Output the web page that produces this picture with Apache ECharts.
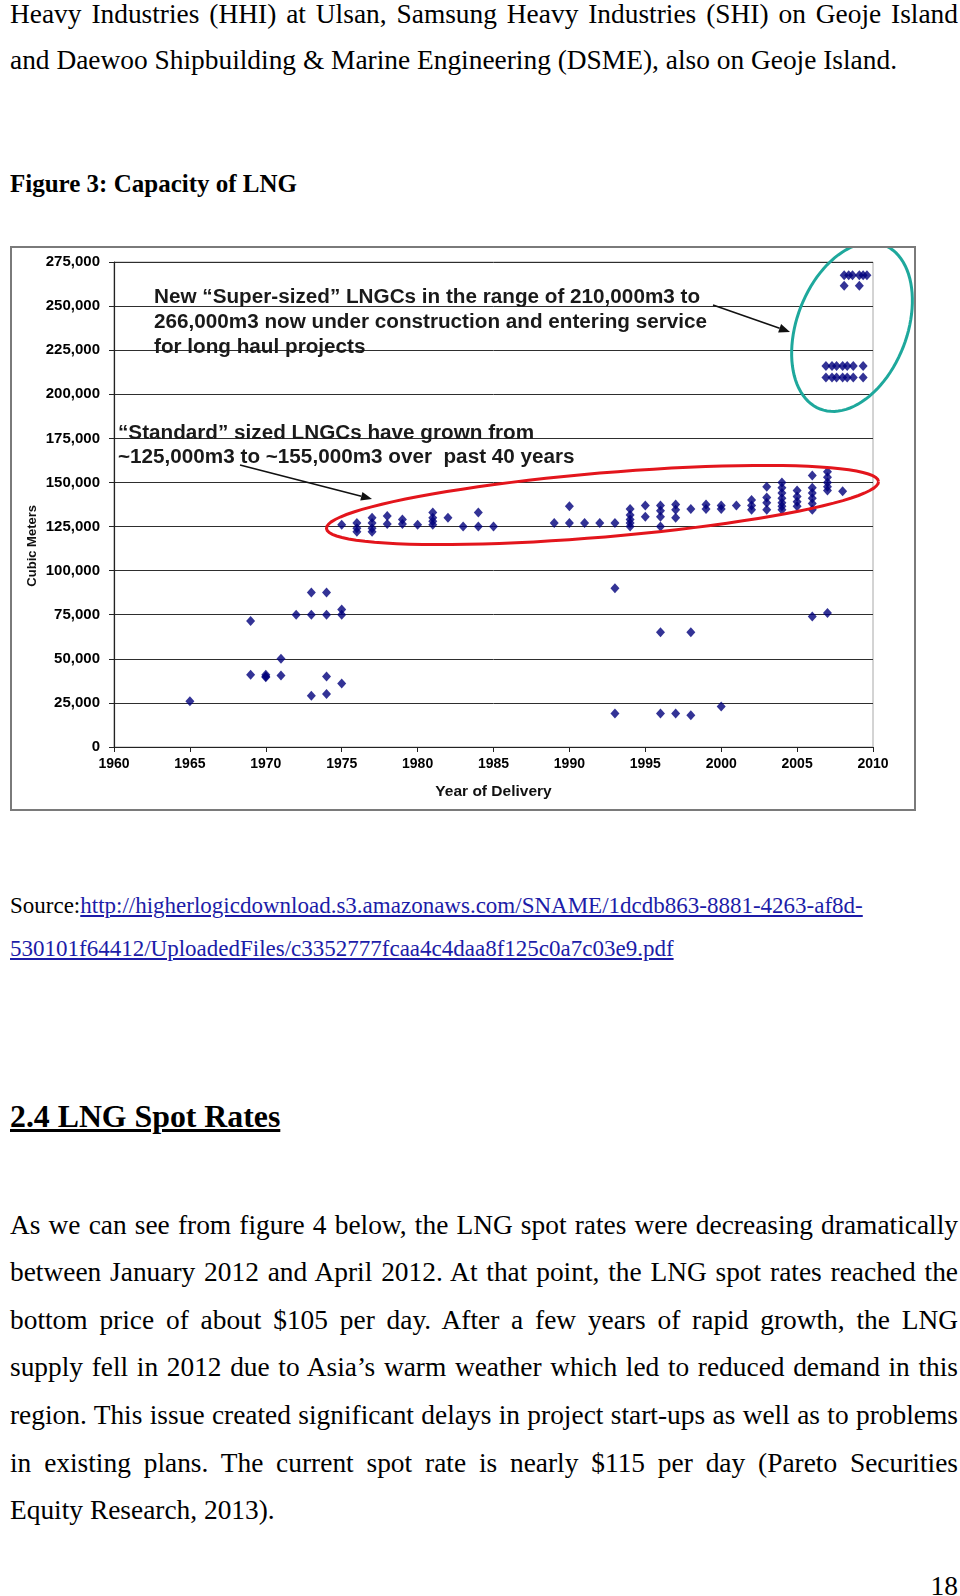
<!DOCTYPE html>
<html><head><meta charset="utf-8">
<script src="https://cdn.jsdelivr.net/npm/echarts@6/dist/echarts.min.js"></script>
<style>
html,body{margin:0;padding:0;background:#fff;}
body{width:960px;height:1596px;position:relative;overflow:hidden;font-family:"Liberation Serif","Times New Roman",serif;color:#000;}
.ln{position:absolute;left:10px;width:948px;height:32px;line-height:32px;font-size:27.4px;white-space:nowrap;}
.j{text-align:justify;text-align-last:justify;white-space:normal;}
a{color:#1c1ca8;text-decoration:underline;}
#chart{position:absolute;left:10px;top:246px;width:906px;height:565px;border:2px solid #7a7a7a;box-sizing:border-box;}
</style></head><body>
<div class="ln j" style="top:-2px">Heavy Industries (HHI) at Ulsan, Samsung Heavy Industries (SHI) on Geoje Island</div>
<div class="ln" style="top:44px">and Daewoo Shipbuilding &amp; Marine Engineering (DSME), also on Geoje Island.</div>
<div class="ln" style="top:168px;font-size:25px;font-weight:bold">Figure 3: Capacity of LNG</div>
<div id="chart"></div>
<div class="ln" style="top:890px;font-size:23px">Source:<a>http://higherlogicdownload.s3.amazonaws.com/SNAME/1dcdb863-8881-4263-af8d-</a></div>
<div class="ln" style="top:933px;font-size:23px"><a>530101f64412/UploadedFiles/c3352777fcaa4c4daa8f125c0a7c03e9.pdf</a></div>
<div class="ln" style="top:1099px;height:36px;line-height:36px;font-size:31.8px;font-weight:bold;text-decoration:underline">2.4 LNG Spot Rates</div>
<div class="ln j" style="top:1209px">As we can see from figure 4 below, the LNG spot rates were decreasing dramatically</div>
<div class="ln j" style="top:1256px">between January 2012 and April 2012. At that point, the LNG spot rates reached the</div>
<div class="ln j" style="top:1304px">bottom price of about $105 per day. After a few years of rapid growth, the LNG</div>
<div class="ln j" style="top:1351px">supply fell in 2012 due to Asia’s warm weather which led to reduced demand in this</div>
<div class="ln j" style="top:1399px">region. This issue created significant delays in project start-ups as well as to problems</div>
<div class="ln j" style="top:1447px">in existing plans. The current spot rate is nearly $115 per day (Pareto Securities</div>
<div class="ln" style="top:1494px">Equity Research, 2013).</div>
<div class="ln" style="top:1570px;text-align:right;">18</div>
<script>
// ---- data ----
const smallYears = [1965,1969,1969,1970,1970,1970,1971,1971,1972,1973,1973,1973,1974,1974,1974,1974,1975,1975,1975,1993,1993,1996,1996,1997,1998,1998,2000,2006,2007];
const smallCapacity = [26000,71500,41000,41000,40000,39500,50000,40500,75000,87600,75000,29000,87600,75000,40000,30000,78000,75000,36000,90000,19000,65000,19000,19000,65000,18000,23000,74000,76000];
const standardYears = [1975,1976,1976,1976,1977,1977,1977,1977,1978,1978,1979,1979,1980,1981,1981,1981,1981,1982,1983,1984,1984,1985,
  1989,1990,1990,1991,1992,1993,1994,1994,1994,1994,1994,1995,1995,1996,1996,1996,1996,1997,1997,1997,1998,1999,1999,2000,2000,2001,
  2002,2002,2002,2003,2003,2003,2003,2004,2004,2004,2004,2004,2004,2004,2005,2005,2005,2005,2006,2006,2006,2006,2006,2006,2007,2007,2007,2007,2007,2008];
const standardCapacity = [126000,127000,124000,122000,130000,127000,124000,122000,131000,126500,129000,126500,126000,133000,130000,128000,126000,130000,125000,133000,125000,125000,
  127000,136500,127000,127000,127000,127000,135000,131500,129000,127000,125000,137000,130500,137000,134000,130500,125000,137500,134500,130000,135000,137500,135000,137000,135000,137000,
  140000,137000,134500,147500,141500,138500,134500,150000,147000,144000,141000,138500,136500,134500,145500,142000,139000,136500,154000,147000,144000,141000,138000,134500,156000,153000,150000,147500,145500,145000];
const qflexYears = [2006.9,2007.3,2007.6,2008.0,2008.3,2008.7,2009.35,2006.9,2007.3,2007.6,2008.0,2008.3,2008.7,2009.35];
const qflexCapacity = [216000,216000,216000,216000,216000,216000,216000,209500,209500,209500,209500,209500,209500,209500];
const qmaxYears = [2008.1,2008.4,2008.65,2009.1,2009.35,2009.6,2008.1,2009.1];
const qmaxCapacity = [267500,267500,267500,267500,267500,267500,261500,261500];
const yearTicks = {min:1960, max:2010, step:5};
const capTicks = {min:0, max:275000, step:25000};

function pairs(xs, ys){ return xs.map((x,i)=>[x, ys[i]]); }
const allData = [].concat(pairs(smallYears, smallCapacity), pairs(standardYears, standardCapacity), pairs(qflexYears, qflexCapacity), pairs(qmaxYears, qmaxCapacity));

// ---- annotation geometry helpers (pixel space of the chart) ----
function ellipsePts(cx, cy, rx, ry, th){
  const pts=[]; const c=Math.cos(th), s=Math.sin(th);
  for(let k=0;k<=96;k++){ const t=k/96*2*Math.PI; const a=rx*Math.cos(t), b=ry*Math.sin(t);
    pts.push([cx + a*c + b*s, cy - a*s + b*c]); }
  return pts;
}
function arrow(x1,y1,x2,y2){
  const a=Math.atan2(y2-y1,x2-x1), L=11, W=4.5;
  const bx=x2-L*Math.cos(a), by=y2-L*Math.sin(a);
  return [
    {type:'line', shape:{x1:x1,y1:y1,x2:bx,y2:by}, style:{stroke:'#111', lineWidth:1.6}, z:20},
    {type:'polygon', shape:{points:[[x2,y2],[bx+W*Math.sin(a),by-W*Math.cos(a)],[bx-W*Math.sin(a),by+W*Math.cos(a)]]}, style:{fill:'#111'}, z:20}
  ];
}
const fam = '"Liberation Sans", Arial, sans-serif';

const chart = echarts.init(document.getElementById('chart'), null, {renderer:'canvas'});
chart.setOption({
  animation:false,
  backgroundColor:'#fff',
  grid:{left:102, right:41, top:14, bottom:62, show:true, borderColor:'#a8a8a8', borderWidth:1, backgroundColor:'transparent'},
  xAxis:{type:'value', min:yearTicks.min, max:yearTicks.max, interval:yearTicks.step,
    name:'Year of Delivery', nameLocation:'middle', nameGap:37,
    nameTextStyle:{fontFamily:fam, fontWeight:'bold', fontSize:15.5, color:'#111'},
    axisLine:{show:true, lineStyle:{color:'#222', width:1.2}},
    axisTick:{show:true, length:5, lineStyle:{color:'#222'}},
    axisLabel:{margin:10, formatter:v=>String(v), fontFamily:fam, fontWeight:'bold', fontSize:14, color:'#000'},
    splitLine:{show:false}},
  yAxis:{type:'value', min:capTicks.min, max:capTicks.max, interval:capTicks.step,
    axisLine:{show:true, lineStyle:{color:'#222', width:1.2}},
    axisTick:{show:true, length:5, lineStyle:{color:'#222'}},
    axisLabel:{margin:14, formatter:v=>v.toLocaleString('en-US'), fontFamily:fam, fontWeight:'bold', fontSize:15, color:'#000'},
    splitLine:{show:true, lineStyle:{color:'#2e2e2e', width:1}}},
  series:[{type:'scatter', data:allData, symbol:'diamond', symbolSize:[9,10],
    itemStyle:{color:'#00007c'}, z:5}],
  graphic:[].concat(
    [{type:'text', left:14, top:257, rotation:Math.PI/2, style:{text:'Cubic Meters', font:'bold 13px '+fam, fill:'#111'}, z:10}],
    [{type:'text', x:142, y:37, style:{text:'New “Super-sized” LNGCs in the range of 210,000m3 to\n266,000m3 now under construction and entering service\nfor long haul projects', font:'bold 20.7px '+fam, fill:'#1a1a1a', lineHeight:25, verticalAlign:'top'}, z:15}],
    [{type:'text', x:106, y:173, style:{text:'“Standard” sized LNGCs have grown from\n~125,000m3 to ~155,000m3 over  past 40 years', font:'bold 20.7px '+fam, fill:'#1a1a1a', lineHeight:24, verticalAlign:'top'}, z:15}],
    arrow(701,57,778,84),
    arrow(228,217,360,251),
    [{type:'polyline', shape:{points:ellipsePts(590.5,257,277,32,0.085)}, style:{stroke:'#e3151c', lineWidth:3, fill:null}, z:18}],
    [{type:'polyline', shape:{points:ellipsePts(840,79,88,55,1.2)}, style:{stroke:'#1ea89c', lineWidth:3, fill:null}, z:18}]
  )
});
</script>
</body></html>
